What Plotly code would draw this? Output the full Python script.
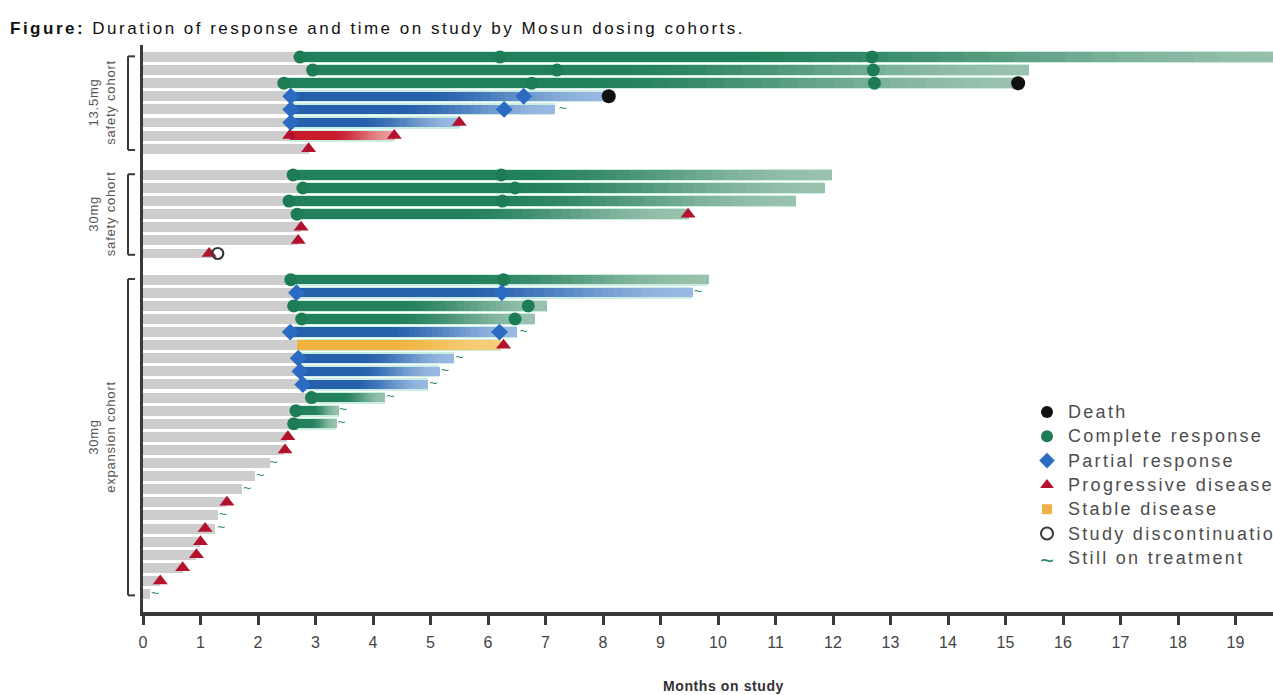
import numpy as np
import plotly.graph_objects as go

# ---------------- data ----------------
cohort_names = ["13.5mg<br>safety cohort", "30mg<br>safety cohort", "30mg<br>expansion cohort"]
cohort_sizes = [8, 7, 25]

# one entry per patient, listed top to bottom
best_response = ["CR", "CR", "CR", "PR", "PR", "PR", "PD", "",
                 "CR", "CR", "CR", "CR", "", "", "",
                 "CR", "PR", "CR", "CR", "PR", "SD", "PR", "PR", "PR", "CR", "CR", "CR",
                 "", "", "", "", "", "", "", "", "", "", "", "", ""]
first_response = [2.73, 2.95, 2.45, 2.57, 2.57, 2.57, 2.55, 2.88,
                  2.61, 2.78, 2.54, 2.68, 2.75, 2.70, 1.20,
                  2.57, 2.67, 2.62, 2.76, 2.56, 2.67, 2.70, 2.73, 2.78, 2.93, 2.66, 2.62,
                  2.50, 2.45, 2.20, 1.95, 1.72, 1.45, 1.30, 1.25, 0.99, 0.92, 0.69, 0.30, 0.13]
time_on_study = [20.50, 15.40, 15.22, 8.10, 7.15, 5.50, 4.37, 2.88,
                 11.98, 11.85, 11.35, 9.48, 2.75, 2.70, 1.20,
                 9.83, 9.55, 7.02, 6.80, 6.50, 6.22, 5.40, 5.15, 4.95, 4.20, 3.40, 3.36,
                 2.50, 2.45, 2.20, 1.95, 1.72, 1.45, 1.30, 1.25, 0.99, 0.92, 0.69, 0.30, 0.13]

cr_patient = [0, 0, 0, 1, 1, 1, 2, 2, 2, 8, 8, 9, 9, 10, 10, 11, 15, 15, 17, 17, 18, 18, 24, 25, 26]
cr_month = [2.73, 6.21, 12.68, 2.95, 7.20, 12.70, 2.45, 6.76, 12.72, 2.61, 6.23, 2.78, 6.47,
            2.54, 6.25, 2.68, 2.57, 6.27, 2.62, 6.70, 2.76, 6.47, 2.93, 2.66, 2.62]
pr_patient = [3, 3, 4, 4, 5, 16, 16, 19, 19, 21, 22, 23]
pr_month = [2.57, 6.62, 2.57, 6.28, 2.57, 2.67, 6.24, 2.56, 6.20, 2.70, 2.73, 2.78]
pd_patient = [5, 6, 6, 7, 11, 12, 13, 14, 20, 27, 28, 32, 34, 35, 36, 37, 38]
pd_month = [5.50, 2.55, 4.37, 2.88, 9.48, 2.75, 2.70, 1.15, 6.27, 2.52, 2.47, 1.46, 1.08,
            1.00, 0.93, 0.69, 0.30]
death_patient = [2, 3]
death_month = [15.22, 8.10]
disc_patient = [14]
disc_month = [1.30]
ongoing_patient = [4, 16, 19, 21, 22, 23, 24, 25, 26, 29, 30, 31, 33, 34, 39]
ongoing_month = [7.30, 9.65, 6.62, 5.50, 5.25, 5.05, 4.30, 3.48, 3.45, 2.27, 2.04, 1.81,
                 1.39, 1.36, 0.21]

month_ticks = list(range(0, 20))
legend_labels = ["Death", "Complete response", "Partial response", "Progressive disease",
                 "Stable disease", "Study discontinuation", "Still on treatment"]

# ---------------- styling ----------------
FONT = "Liberation Sans, Arial, sans-serif"
BAR_DARK = {"CR": (35, 128, 92), "PR": (38, 96, 172), "PD": (200, 28, 45), "SD": (242, 178, 60)}
BAR_LIGHT = {"CR": (165, 200, 183), "PR": (165, 195, 232), "PD": (238, 170, 170), "SD": (247, 210, 130)}
C_CR, C_PR, C_PD, C_SD = "#1e7c55", "#2b6cc2", "#b3122e", "#efb24a"
C_DEATH, C_TILDE = "#111111", "#2e8a68"
GRAY = "#cdcdcd"
AXIS = "#3a3a3a"

# row positions: one blank row between cohorts
pos = []
k = 0
for c, n in enumerate(cohort_sizes):
    for _ in range(n):
        pos.append(k + c)
        k += 1
pos = np.array(pos, dtype=float)
n_pat = len(pos)

X_MAX = 1130 / 57.5
Y_TOP, Y_BOT = -0.916, 42.37

fig = go.Figure()

# gray portion: time before first response assessment
fig.add_trace(go.Bar(orientation="h", y=pos, base=[0] * n_pat, x=first_response,
                     width=0.76, marker=dict(color=GRAY, line=dict(width=0)),
                     hoverinfo="skip", showlegend=False))

# light rim under the response bars
rim_idx = [i for i in range(n_pat) if best_response[i]]
fig.add_trace(go.Bar(orientation="h", y=pos[rim_idx],
                     base=[first_response[i] for i in rim_idx],
                     x=[time_on_study[i] - first_response[i] for i in rim_idx],
                     width=0.92, marker=dict(color="#c9efe3", line=dict(width=0)),
                     hoverinfo="skip", showlegend=False))

# response bars, shaded from dark to pale along their length
N_SEG = 40
seg_y, seg_base, seg_len, seg_col = [], [], [], []
for i in rim_idx:
    a, b = first_response[i], time_on_study[i]
    dark = np.array(BAR_DARK[best_response[i]], dtype=float)
    light = np.array(BAR_LIGHT[best_response[i]], dtype=float)
    edges = np.linspace(a, b, N_SEG + 1)
    for s in range(N_SEG):
        t = (s + 0.5) / N_SEG
        f = np.clip((t - 0.4) / 0.6, 0, 1)
        f = f * f * (3 - 2 * f) * 0.9
        c = dark * (1 - f) + light * f
        seg_y.append(pos[i])
        seg_base.append(edges[s])
        seg_len.append(edges[s + 1] - edges[s] + 0.01)
        seg_col.append("rgb(%d,%d,%d)" % tuple(c.round()))
fig.add_trace(go.Bar(orientation="h", y=seg_y, base=seg_base, x=seg_len, width=0.72,
                     marker=dict(color=seg_col, line=dict(width=0)),
                     hoverinfo="skip", showlegend=False))

# event markers
def events(patients, months, **marker):
    fig.add_trace(go.Scatter(x=months, y=pos[patients], mode="markers", marker=marker,
                             cliponaxis=False, hoverinfo="skip", showlegend=False))

events(cr_patient, cr_month, symbol="circle", size=13, color=C_CR)
events(pr_patient, pr_month, symbol="diamond", size=13, color=C_PR)
events(pd_patient, pd_month, symbol="triangle-up", size=13, color=C_PD)
events(death_patient, death_month, symbol="circle", size=14, color=C_DEATH)
events(disc_patient, disc_month, symbol="circle-open", size=11, color=AXIS,
       line=dict(width=2.2, color=AXIS))
fig.add_trace(go.Scatter(x=ongoing_month, y=pos[ongoing_patient], mode="text",
                         text=["~"] * len(ongoing_month),
                         textfont=dict(family=FONT, size=14, color=C_TILDE),
                         cliponaxis=False, hoverinfo="skip", showlegend=False))

# legend key, drawn on a fixed 0..1 overlay
leg_x = (1047 - 143) / 1130
leg_y = [(612 - (412 + 24.3 * j)) / 567 for j in range(len(legend_labels))]
leg_marks = [dict(symbol="circle", size=12, color=C_DEATH),
             dict(symbol="circle", size=12, color=C_CR),
             dict(symbol="diamond", size=12, color=C_PR),
             dict(symbol="triangle-up", size=12, color=C_PD),
             dict(symbol="square", size=10, color=C_SD),
             dict(symbol="circle-open", size=12, color=AXIS, line=dict(width=2, color=AXIS))]
for j, m in enumerate(leg_marks):
    fig.add_trace(go.Scatter(x=[leg_x], y=[leg_y[j]], mode="markers", marker=m,
                             xaxis="x2", yaxis="y2", cliponaxis=False,
                             hoverinfo="skip", showlegend=False))
fig.add_trace(go.Scatter(x=[leg_x], y=[leg_y[6] - 5 / 567], mode="text", text=["~"],
                         textfont=dict(family=FONT, size=24, color=C_TILDE),
                         xaxis="x2", yaxis="y2", cliponaxis=False,
                         hoverinfo="skip", showlegend=False))

annotations = []
for j, lab in enumerate(legend_labels):
    annotations.append(dict(xref="paper", yref="paper", x=(1066 - 143) / 1130, y=leg_y[j],
                            xanchor="left", yanchor="middle", showarrow=False,
                            text='<span style="letter-spacing:2.3px">%s</span>' % lab,
                            font=dict(family=FONT, size=18, color="#4d4d4d")))

# cohort brackets and labels
shapes = []
bx0, bx1 = (128 - 143) / 1130, (135 - 143) / 1130
start = 0
for c, n in enumerate(cohort_sizes):
    y0 = pos[start] - 0.05
    y1 = pos[start + n - 1] + 0.1
    for xa, ya, xb, yb in [(bx0, y0, bx0, y1), (bx0, y0, bx1, y0), (bx0, y1, bx1, y1)]:
        shapes.append(dict(type="line", xref="paper", yref="y", x0=xa, y0=ya, x1=xb, y1=yb,
                           line=dict(color=AXIS, width=2)))
    annotations.append(dict(xref="paper", yref="y", x=(102 - 143) / 1130,
                            y=(pos[start] + pos[start + n - 1]) / 2,
                            xanchor="center", yanchor="middle", textangle=-90,
                            showarrow=False, align="center",
                            text='<span style="letter-spacing:0.8px">%s</span>' % cohort_names[c],
                            font=dict(family=FONT, size=13, color="#555555")))
    start += n

annotations.append(dict(xref="x", yref="paper", x=10.1, y=(612 - 686) / 567,
                        xanchor="center", yanchor="middle", showarrow=False,
                        text='<span style="letter-spacing:0.6px"><b>Months on study</b></span>',
                        font=dict(family=FONT, size=14, color="#333333")))

fig.update_layout(
    width=1273, height=695,
    margin=dict(l=143, r=0, t=45, b=83),
    paper_bgcolor="white", plot_bgcolor="white",
    barmode="overlay", bargap=0,
    showlegend=False,
    title=dict(text='<span style="letter-spacing:2.5px"><b>Figure:</b> Duration of response and '
                    'time on study by Mosun dosing cohorts.</span>',
               x=10 / 1273, xanchor="left", y=1 - 28 / 695, yanchor="middle",
               font=dict(family=FONT, size=17, color="#111111")),
    xaxis=dict(range=[0, X_MAX], tickvals=month_ticks, ticks="outside", ticklen=9,
               tickwidth=2.5, tickcolor=AXIS, showline=True, linewidth=3.5, linecolor=AXIS,
               showgrid=False, zeroline=False, ticklabelstandoff=4,
               tickfont=dict(family=FONT, size=16, color="#444444")),
    yaxis=dict(range=[Y_BOT, Y_TOP], showticklabels=False, ticks="", showline=True,
               linewidth=3, linecolor=AXIS, showgrid=False, zeroline=False),
    xaxis2=dict(domain=[0, 1], range=[0, 1], overlaying="x", visible=False, fixedrange=True),
    yaxis2=dict(domain=[0, 1], range=[0, 1], overlaying="y", visible=False, fixedrange=True),
    shapes=shapes,
    annotations=annotations,
)

fig.write_html("out.html")
